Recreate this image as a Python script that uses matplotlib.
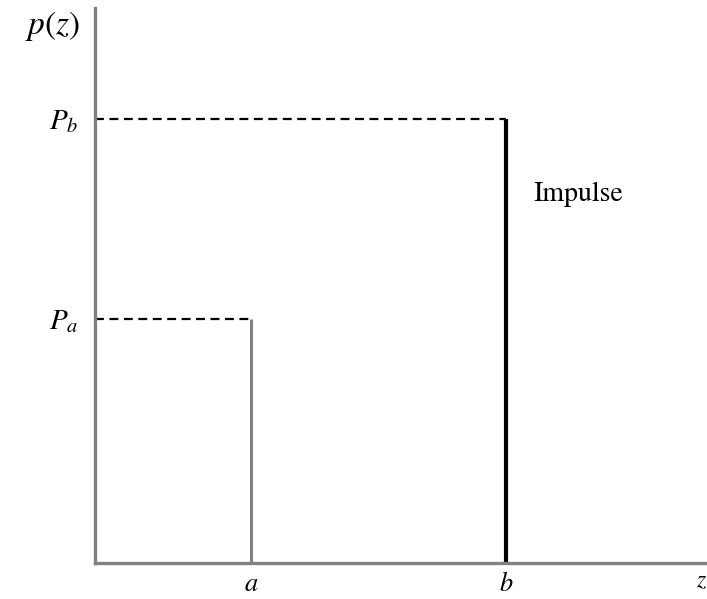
import matplotlib.pyplot as plt

plt.rcParams['mathtext.fontset'] = 'stix'
plt.rcParams['font.family'] = 'STIXGeneral'

# impulse positions along z and their probabilities
z_labels = ['a', 'b']
z_values = [1.0, 2.63]
p_labels = ['P_a', 'P_b']
p_values = [0.44, 0.80]
impulse_colors = ['#808080', 'black']
impulse_widths = [2.2, 3.0]

fig = plt.figure(figsize=(7.07, 5.99), dpi=100)
ax = fig.add_axes([0.1344, 0.0601, 0.8628, 0.9265])
ax.set_xlim(0, 3.9)
ax.set_ylim(0, 1)

# impulses with dashed guides back to the p(z) axis
for z, p, c, w in zip(z_values, p_values, impulse_colors, impulse_widths):
    ax.plot([z, z], [0, p], color=c, lw=w, solid_capstyle='butt')
    ax.plot([0, z], [p, p], color='black', lw=1.6, linestyle=(0, (4, 2.5)))

for spine in ['top', 'right']:
    ax.spines[spine].set_visible(False)
for spine in ['left', 'bottom']:
    ax.spines[spine].set_color('#808080')
    ax.spines[spine].set_linewidth(2.4)

ax.set_xticks(z_values)
ax.set_xticklabels([f'${s}$' for s in z_labels], fontsize=19)
ax.set_yticks(p_values)
ax.set_yticklabels([f'${s}$' for s in p_labels], fontsize=21)
ax.tick_params(axis='x', length=0, pad=7)
ax.tick_params(axis='y', length=0, pad=12)

ax.text(-0.025, 0.998, '$p(z)$', transform=ax.get_yaxis_transform(), ha='right', va='top', fontsize=24)
ax.text(3.88, -0.015, '$z$', ha='center', va='top', fontsize=17)
ax.text(2.8, 0.665, 'Impulse', ha='left', va='center', fontsize=20)

fig.savefig('out.png', dpi=100)
